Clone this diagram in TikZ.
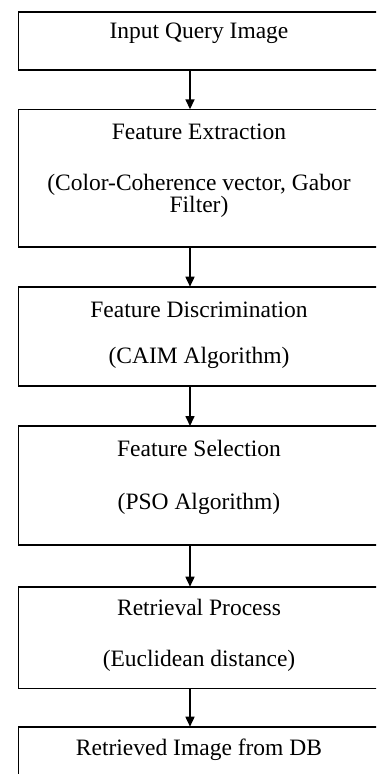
\documentclass[tikz,border=0pt]{standalone}
\usepackage{fontspec}
\setmainfont{Liberation Serif}
\usetikzlibrary{arrows.meta}
\begin{document}
\begin{tikzpicture}[x=1pt,y=-1pt,
  box/.style={draw=black,line width=1.6pt,rectangle,inner sep=0pt,outer sep=0pt,anchor=north west,minimum width=363pt},
  lbl/.style={anchor=base,inner sep=0pt,font=\fontsize{23.5}{19}\selectfont,align=center},
  arr/.style={line width=1.6pt,-{Triangle[length=10pt,width=9pt]}}]
\useasboundingbox (0,0) rectangle (376,774);
\fill[white] (0,0) rectangle (376,774);
\clip (0,0) rectangle (376,774);
\coordinate (ax) at (190,0);
\node[box,minimum height=58.3pt] (b1) at (18.3,11.7) {};
\node[box,minimum height=137.4pt] (b2) at (18.3,109.3) {};
\node[box,minimum height=99.3pt] (b3) at (18.3,286.7) {};
\node[box,minimum height=119pt] (b4) at (18.3,426) {};
\node[box,minimum height=101.6pt] (b5) at (18.3,586.7) {};
\node[box,minimum height=80pt] (b6) at (18.3,726.7) {};
\node[lbl] (t1) at (199,38) {Input Query Image};
\node[lbl] (t2) at (199,139) {Feature Extraction};
\node[lbl,anchor=north] (t2b) at (199,174) {(Color-Coherence vector, Gabor\\Filter)};
\node[lbl] (t3) at (199,317) {Feature Discrimination};
\node[lbl] (t3b) at (199,363) {(CAIM Algorithm)};
\node[lbl] (t4) at (199,456) {Feature Selection};
\node[lbl] (t4b) at (199,509) {(PSO Algorithm)};
\node[lbl] (t5) at (199,615.5) {Retrieval Process};
\node[lbl] (t5b) at (199,666) {(Euclidean distance)};
\node[lbl] (t6) at (199,755) {Retrieved Image from DB};
\draw[arr] (b1.south -| ax) -- (b2.north -| ax);
\draw[arr] (b2.south -| ax) -- (b3.north -| ax);
\draw[arr] (b3.south -| ax) -- (b4.north -| ax);
\draw[arr] (b4.south -| ax) -- (b5.north -| ax);
\draw[arr] (b5.south -| ax) -- (b6.north -| ax);
\end{tikzpicture}
\end{document}
